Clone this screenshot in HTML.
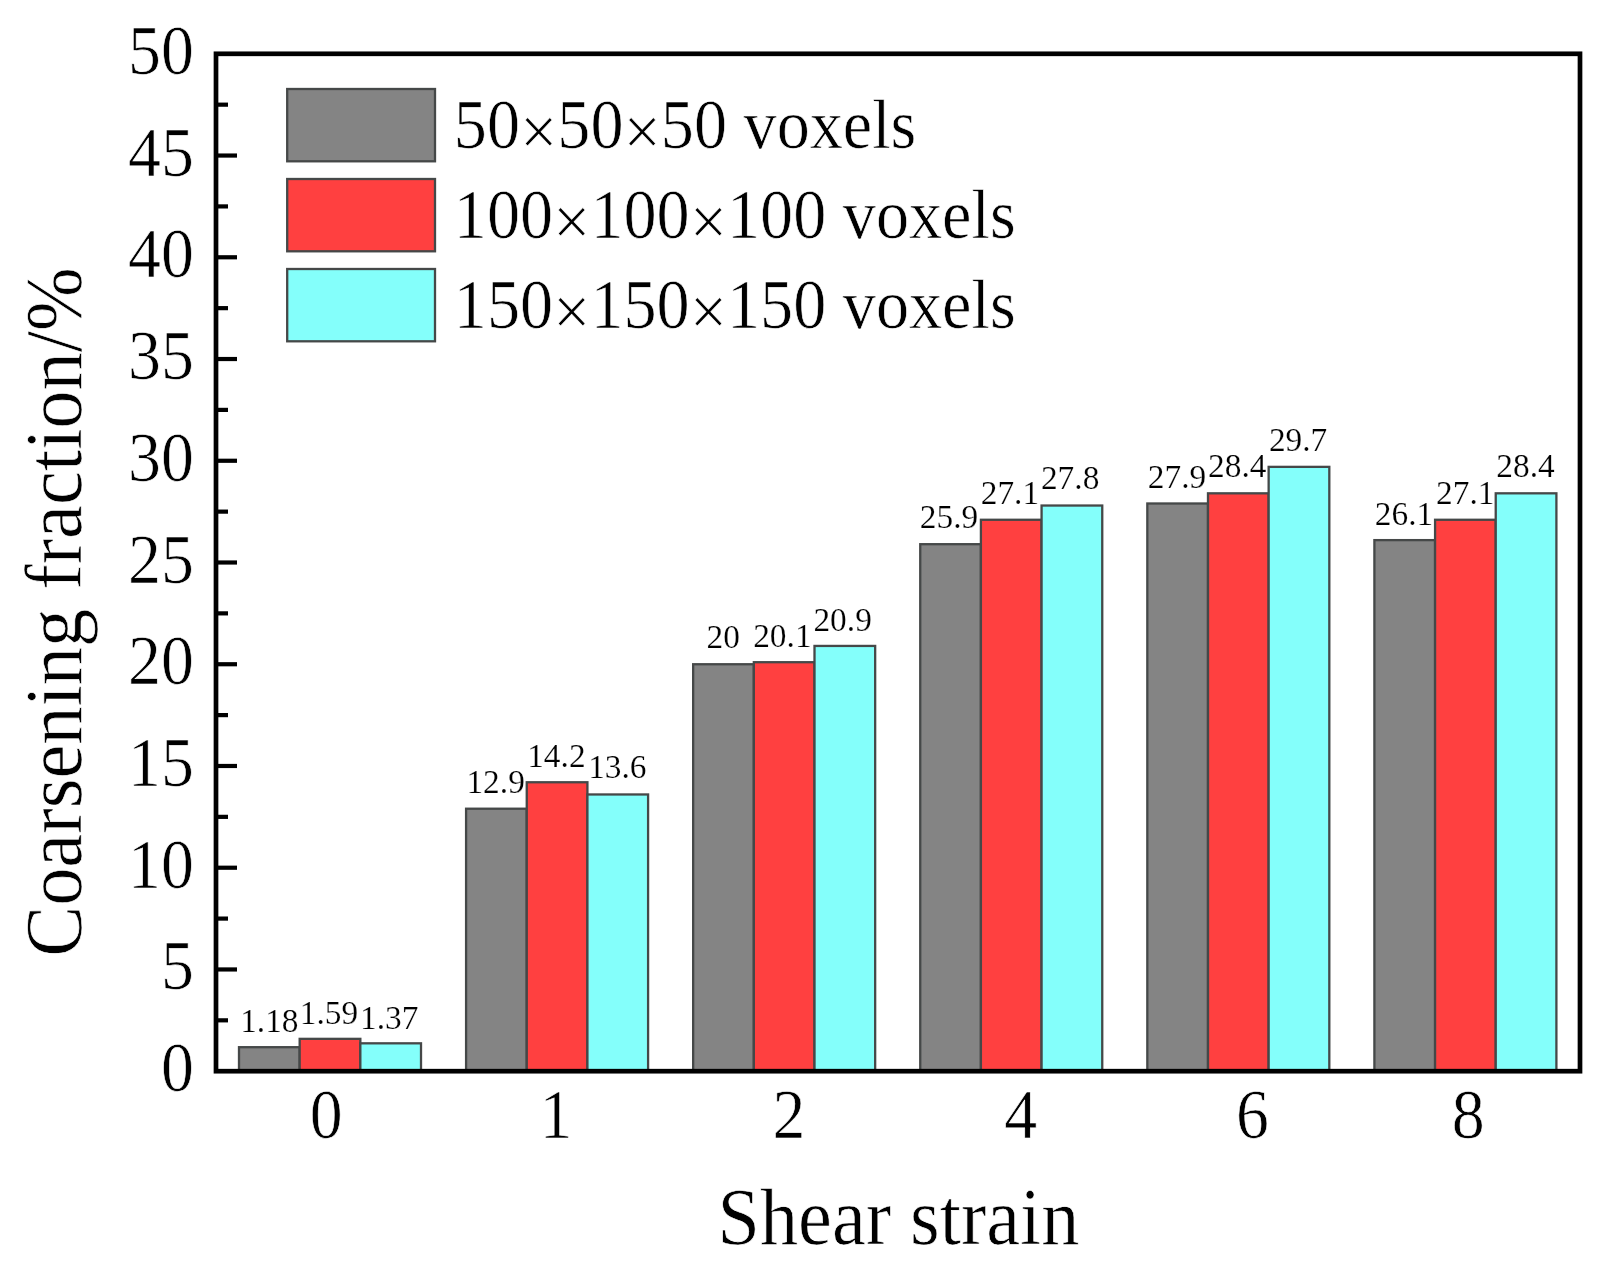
<!DOCTYPE html>
<html lang="en"><head><meta charset="utf-8"><title>Coarsening fraction vs shear strain</title>
<style>
html,body{margin:0;padding:0;background:#fff;}
svg{display:block;font-family:"Liberation Serif", serif;filter:blur(0.5px);}
.t text{fill:#000;stroke:#fff;stroke-width:0.6px;}
.s text{stroke-width:0.2px;}
</style></head><body>
<svg width="1611" height="1275" viewBox="0 0 1611 1275">
<rect width="1611" height="1275" fill="#fff"/>
<g stroke="#454848" stroke-width="2.3">
<rect x="239.00" y="1047.19" width="60.67" height="24.01" fill="#848484"/>
<rect x="299.67" y="1038.85" width="60.67" height="32.35" fill="#FF4040"/>
<rect x="360.34" y="1043.32" width="60.67" height="27.88" fill="#84FFFB"/>
<rect x="466.08" y="808.71" width="60.67" height="262.49" fill="#848484"/>
<rect x="526.75" y="782.26" width="60.67" height="288.94" fill="#FF4040"/>
<rect x="587.42" y="794.47" width="60.67" height="276.73" fill="#84FFFB"/>
<rect x="693.16" y="664.24" width="60.67" height="406.96" fill="#848484"/>
<rect x="753.83" y="662.21" width="60.67" height="408.99" fill="#FF4040"/>
<rect x="814.50" y="645.93" width="60.67" height="425.27" fill="#84FFFB"/>
<rect x="920.24" y="544.19" width="60.67" height="527.01" fill="#848484"/>
<rect x="980.90" y="519.77" width="60.67" height="551.43" fill="#FF4040"/>
<rect x="1041.58" y="505.53" width="60.67" height="565.67" fill="#84FFFB"/>
<rect x="1147.32" y="503.49" width="60.67" height="567.71" fill="#848484"/>
<rect x="1207.99" y="493.32" width="60.67" height="577.88" fill="#FF4040"/>
<rect x="1268.65" y="466.86" width="60.67" height="604.34" fill="#84FFFB"/>
<rect x="1374.39" y="540.12" width="60.67" height="531.08" fill="#848484"/>
<rect x="1435.07" y="519.77" width="60.67" height="551.43" fill="#FF4040"/>
<rect x="1495.73" y="493.32" width="60.67" height="577.88" fill="#84FFFB"/>
</g>
<rect x="216.0" y="53.8" width="1364.0" height="1017.4000000000001" fill="none" stroke="#000" stroke-width="4.7"/>
<g stroke="#000" stroke-width="4.2">
<line x1="216.0" y1="1020.33" x2="228.0" y2="1020.33"/>
<line x1="216.0" y1="969.46" x2="237.0" y2="969.46"/>
<line x1="216.0" y1="918.59" x2="228.0" y2="918.59"/>
<line x1="216.0" y1="867.72" x2="237.0" y2="867.72"/>
<line x1="216.0" y1="816.85" x2="228.0" y2="816.85"/>
<line x1="216.0" y1="765.98" x2="237.0" y2="765.98"/>
<line x1="216.0" y1="715.11" x2="228.0" y2="715.11"/>
<line x1="216.0" y1="664.24" x2="237.0" y2="664.24"/>
<line x1="216.0" y1="613.37" x2="228.0" y2="613.37"/>
<line x1="216.0" y1="562.50" x2="237.0" y2="562.50"/>
<line x1="216.0" y1="511.63" x2="228.0" y2="511.63"/>
<line x1="216.0" y1="460.76" x2="237.0" y2="460.76"/>
<line x1="216.0" y1="409.89" x2="228.0" y2="409.89"/>
<line x1="216.0" y1="359.02" x2="237.0" y2="359.02"/>
<line x1="216.0" y1="308.15" x2="228.0" y2="308.15"/>
<line x1="216.0" y1="257.28" x2="237.0" y2="257.28"/>
<line x1="216.0" y1="206.41" x2="228.0" y2="206.41"/>
<line x1="216.0" y1="155.54" x2="237.0" y2="155.54"/>
<line x1="216.0" y1="104.67" x2="228.0" y2="104.67"/>
</g>
<g class="t s">
<text transform="translate(269.33 1031.80) scale(1 1.035)" font-size="33.4" text-anchor="middle">1.18</text>
<text transform="translate(329.00 1024.30) scale(1 1.035)" font-size="33.4" text-anchor="middle">1.59</text>
<text transform="translate(389.17 1029.30) scale(1 1.035)" font-size="33.4" text-anchor="middle">1.37</text>
<text transform="translate(495.61 793.00) scale(1 1.035)" font-size="33.4" text-anchor="middle">12.9</text>
<text transform="translate(556.38 766.60) scale(1 1.035)" font-size="33.4" text-anchor="middle">14.2</text>
<text transform="translate(617.35 778.10) scale(1 1.035)" font-size="33.4" text-anchor="middle">13.6</text>
<text transform="translate(723.19 648.00) scale(1 1.035)" font-size="33.4" text-anchor="middle">20</text>
<text transform="translate(782.36 647.40) scale(1 1.035)" font-size="33.4" text-anchor="middle">20.1</text>
<text transform="translate(842.63 630.60) scale(1 1.035)" font-size="33.4" text-anchor="middle">20.9</text>
<text transform="translate(949.07 528.00) scale(1 1.035)" font-size="33.4" text-anchor="middle">25.9</text>
<text transform="translate(1009.94 503.80) scale(1 1.035)" font-size="33.4" text-anchor="middle">27.1</text>
<text transform="translate(1070.11 489.40) scale(1 1.035)" font-size="33.4" text-anchor="middle">27.8</text>
<text transform="translate(1177.05 487.90) scale(1 1.035)" font-size="33.4" text-anchor="middle">27.9</text>
<text transform="translate(1237.32 477.30) scale(1 1.035)" font-size="33.4" text-anchor="middle">28.4</text>
<text transform="translate(1298.09 450.60) scale(1 1.035)" font-size="33.4" text-anchor="middle">29.7</text>
<text transform="translate(1404.03 524.90) scale(1 1.035)" font-size="33.4" text-anchor="middle">26.1</text>
<text transform="translate(1465.20 503.80) scale(1 1.035)" font-size="33.4" text-anchor="middle">27.1</text>
<text transform="translate(1525.57 477.10) scale(1 1.035)" font-size="33.4" text-anchor="middle">28.4</text>
</g>
<g class="t">
<text transform="translate(193.80 1091.20) scale(1 1.06)" font-size="65.8" text-anchor="end">0</text>
<text transform="translate(193.80 989.46) scale(1 1.06)" font-size="65.8" text-anchor="end">5</text>
<text transform="translate(193.80 887.72) scale(1 1.06)" font-size="65.8" text-anchor="end">10</text>
<text transform="translate(193.80 785.98) scale(1 1.06)" font-size="65.8" text-anchor="end">15</text>
<text transform="translate(193.80 684.24) scale(1 1.06)" font-size="65.8" text-anchor="end">20</text>
<text transform="translate(193.80 582.50) scale(1 1.06)" font-size="65.8" text-anchor="end">25</text>
<text transform="translate(193.80 480.76) scale(1 1.06)" font-size="65.8" text-anchor="end">30</text>
<text transform="translate(193.80 379.02) scale(1 1.06)" font-size="65.8" text-anchor="end">35</text>
<text transform="translate(193.80 277.28) scale(1 1.06)" font-size="65.8" text-anchor="end">40</text>
<text transform="translate(193.80 175.54) scale(1 1.06)" font-size="65.8" text-anchor="end">45</text>
<text transform="translate(193.80 73.80) scale(1 1.06)" font-size="65.8" text-anchor="end">50</text>
<text transform="translate(326.20 1137.60) scale(1 1.06)" font-size="65.8" text-anchor="middle">0</text>
<text transform="translate(556.00 1137.60) scale(1 1.06)" font-size="65.8" text-anchor="middle">1</text>
<text transform="translate(788.90 1137.60) scale(1 1.06)" font-size="65.8" text-anchor="middle">2</text>
<text transform="translate(1020.60 1137.60) scale(1 1.06)" font-size="65.8" text-anchor="middle">4</text>
<text transform="translate(1252.40 1137.60) scale(1 1.06)" font-size="65.8" text-anchor="middle">6</text>
<text transform="translate(1468.30 1137.60) scale(1 1.06)" font-size="65.8" text-anchor="middle">8</text>
<text transform="translate(898.50 1243.60) scale(1 1.05)" font-size="76.2" text-anchor="middle">Shear strain</text>
<text transform="translate(81.4 612.1) rotate(-90) scale(1 1.05)" font-size="76.4" text-anchor="middle">Coarsening fraction/%</text>
<rect x="287.2" y="89.0" width="147.8" height="72.3" fill="#848484" stroke="#454848" stroke-width="2.3"/>
<text transform="translate(453.80 147.60) scale(1 1.045)" font-size="66.2" text-anchor="start">50<tspan dy="6.6">×</tspan><tspan dy="-6.6">50</tspan><tspan dy="6.6">×</tspan><tspan dy="-6.6">50 voxels</tspan></text>
<rect x="287.2" y="179.0" width="147.8" height="72.3" fill="#FF4040" stroke="#454848" stroke-width="2.3"/>
<text transform="translate(453.80 237.60) scale(1 1.045)" font-size="66.2" text-anchor="start">100<tspan dy="6.6">×</tspan><tspan dy="-6.6">100</tspan><tspan dy="6.6">×</tspan><tspan dy="-6.6">100 voxels</tspan></text>
<rect x="287.2" y="269.0" width="147.8" height="72.3" fill="#84FFFB" stroke="#454848" stroke-width="2.3"/>
<text transform="translate(453.80 327.60) scale(1 1.045)" font-size="66.2" text-anchor="start">150<tspan dy="6.6">×</tspan><tspan dy="-6.6">150</tspan><tspan dy="6.6">×</tspan><tspan dy="-6.6">150 voxels</tspan></text>
</g>
</svg>
</body></html>
